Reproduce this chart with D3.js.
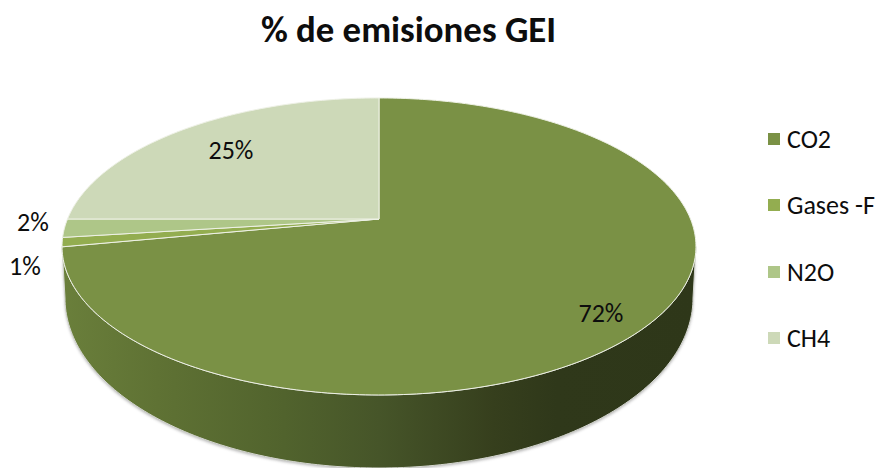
<!DOCTYPE html>
<html>
<head>
<meta charset="utf-8">
<script src="https://cdnjs.cloudflare.com/ajax/libs/d3/7.8.5/d3.min.js"></script>
<style>
html,body{margin:0;padding:0;background:#fff}
svg{display:block}
text{font-family:Carlito,Calibri,Lato,"Open Sans",sans-serif;fill:#0d0d0d}
</style>
</head>
<body>
<svg id="chart" width="879" height="468"></svg>
<script>
// --- data ---
const categories = ["CO2", "Gases -F", "N2O", "CH4"];
const percentValues = [72, 1, 2, 25];
const sliceColors = ["#7a9145", "#93ad50", "#aec688", "#cdd9b8"];
const chartTitle = "% de emisiones GEI";

// --- layout ---
const W = 879, H = 468;
const cx = 379, cyTop = 219;
const persp = -0.185, yA = 102.9, xA = 311.5;   // perspective of the top disc
const bottomEllipse = {cy: 298, rx: 314, ry: 170};
const labelPos = [[601, 313], [25, 266], [33, 222], [231, 150]];
const legendX = 768, legendYs = [139, 205, 272, 338];

const svg = d3.select("#chart").attr("viewBox", `0 0 ${W} ${H}`);
const defs = svg.append("defs");

const grad = defs.append("linearGradient").attr("id", "rim")
  .attr("gradientUnits", "userSpaceOnUse")
  .attr("x1", 62).attr("x2", 696).attr("y1", 0).attr("y2", 0);
[[0, "#6a7f3b"], [0.15, "#5f7234"], [0.35, "#51632d"], [0.5, "#465529"],
 [0.68, "#363f1d"], [0.78, "#2f381a"], [1, "#2e3719"]]
  .forEach(([o, c]) => grad.append("stop").attr("offset", o).attr("stop-color", c));

const blur = defs.append("filter").attr("id", "shadow")
  .attr("x", "-5%").attr("y", "-5%").attr("width", "110%").attr("height", "115%");
blur.append("feGaussianBlur").attr("stdDeviation", 1.6);

// angle (clockwise from 12 o'clock) -> point on the perspective top disc
function project(angle, r = 1) {
  const u = r * Math.sin(angle), v = -r * Math.cos(angle);
  const w = 1 + persp * v;
  return [cx + xA * u / w, (yA * v + cyTop) / w];
}

const pie = d3.pie().sort(null).value(d => d);
const arcs = pie(percentValues);
const line = d3.line();

function slicePath(d) {
  const n = Math.max(2, Math.ceil((d.endAngle - d.startAngle) * 60));
  const pts = [[cx, cyTop]];
  d3.range(n + 1).forEach(i => {
    pts.push(project(d.startAngle + (d.endAngle - d.startAngle) * i / n));
  });
  return line(pts) + "Z";
}

// rim: from the right tangent of the disc round the front to the left tangent
const tanStart = Math.acos(persp);           // v = -persp
const tanEnd = 2 * Math.PI - tanStart;
function rimPath() {
  const n = 160, top = [], bottom = [];
  d3.range(n + 1).forEach(i => {
    top.push(project(tanStart + (tanEnd - tanStart) * i / n));
    const t = Math.PI / 2 + Math.PI * i / n;
    bottom.push([cx + bottomEllipse.rx * Math.sin(t),
                 bottomEllipse.cy - bottomEllipse.ry * Math.cos(t)]);
  });
  return line(top.concat(bottom.reverse())) + "Z";
}

const rp = rimPath();
svg.append("path").attr("d", rp).attr("fill", "#8f8f8f").attr("opacity", 0.7)
  .attr("transform", "translate(0,1.5)").attr("filter", "url(#shadow)");
svg.append("path").attr("d", rp).attr("fill", "url(#rim)")
  .attr("stroke", "#d4d6cf").attr("stroke-width", 1);

svg.append("g").selectAll("path").data(arcs).join("path")
  .attr("d", slicePath)
  .attr("fill", (d, i) => sliceColors[i])
  .attr("stroke", "#eef1e6").attr("stroke-width", 1).attr("stroke-linejoin", "round");

// title
svg.append("text").attr("x", 408.5).attr("y", 42)
  .attr("text-anchor", "middle").attr("font-size", 36.8).attr("font-weight", 700)
  .text(chartTitle);

// data labels
svg.append("g").selectAll("text").data(percentValues).join("text")
  .attr("x", (d, i) => labelPos[i][0]).attr("y", (d, i) => labelPos[i][1])
  .attr("dy", "0.36em").attr("text-anchor", "middle").attr("font-size", 26)
  .text(d => d + "%");

// legend
const leg = svg.append("g").selectAll("g").data(categories).join("g")
  .attr("transform", (d, i) => `translate(${legendX},${legendYs[i]})`);
leg.append("rect").attr("x", 0).attr("y", -6).attr("width", 12).attr("height", 12)
  .attr("fill", (d, i) => sliceColors[i]);
leg.append("text").attr("x", 19).attr("y", 0).attr("dy", "0.36em")
  .attr("font-size", 26).text(d => d);
</script>
</body>
</html>
